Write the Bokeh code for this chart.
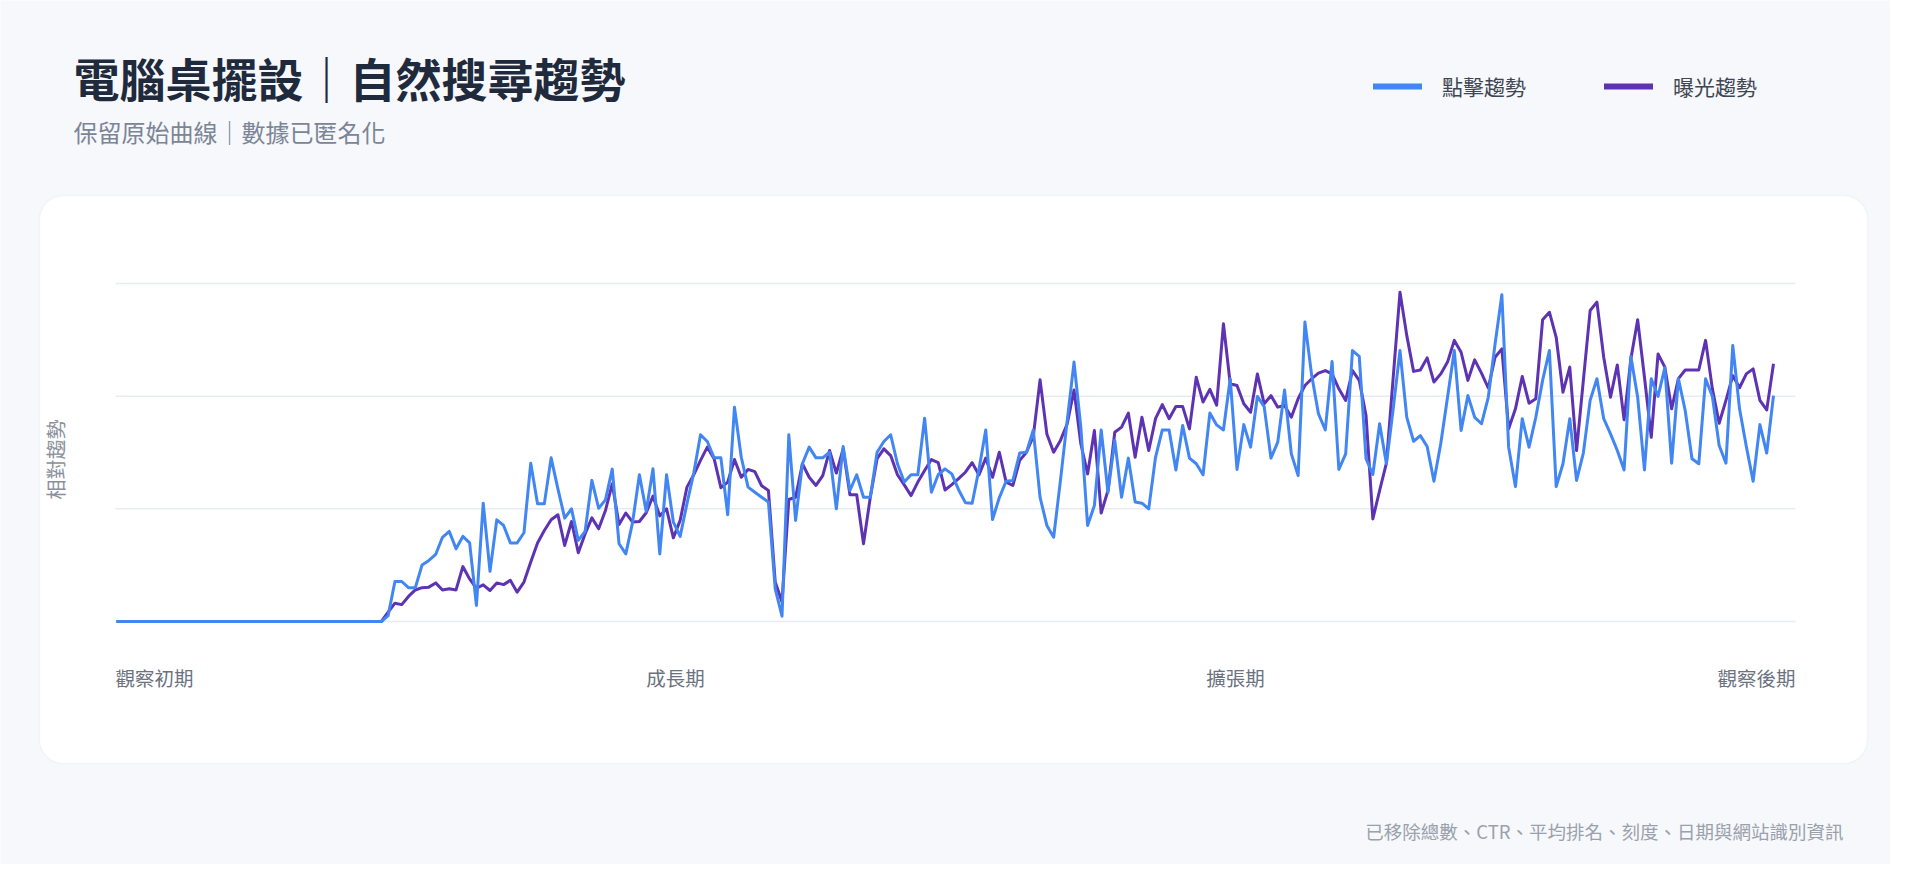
from math import pi
from bokeh.plotting import figure
from bokeh.models import (Range1d, BoxAnnotation, Label, Legend, LegendItem,
                          ColumnDataSource)
from bokeh.embed import file_html
from bokeh.resources import INLINE

# ---------------- data (relative trend, anonymised) ----------------
clicks = [
    0, 0, 0, 0, 0, 0, 0, 0, 0, 0,
    0, 0, 0, 0, 0, 0, 0, 0, 0, 0,
    0, 0, 0, 0, 0, 0, 0, 0, 0, 0,
    0, 0, 0, 0, 0, 0, 0, 0, 0, 0,
    2.1, 14.2, 14.2, 12.0, 12.0, 20.1, 21.7, 23.8, 29.9, 32.0,
    25.8, 30.2, 27.9, 5.7, 42.0, 17.8, 36.1, 34.1, 27.9, 27.9,
    31.5, 56.2, 41.8, 41.8, 58.1, 47.1, 36.7, 40.0, 28.8, 32.0,
    50.1, 40.2, 43.2, 54.1, 27.6, 24.0, 35.3, 52.1, 39.1, 54.2,
    24.0, 52.1, 35.3, 30.2, 41.8, 52.7, 66.3, 63.9, 58.1, 58.1,
    37.9, 76.1, 58.3, 47.7, 45.9, 44.1, 42.4, 11.6, 1.9, 66.3,
    35.9, 56.0, 61.9, 58.1, 58.1, 60.1, 40.0, 62.1, 46.5, 52.1,
    44.1, 44.1, 60.1, 63.9, 66.3, 56.0, 49.5, 52.1, 52.1, 72.2,
    45.9, 52.1, 54.2, 52.4, 46.8, 42.2, 42.0, 54.0, 68.0, 36.2,
    44.0, 49.8, 50.1, 59.8, 60.1, 68.0, 44.1, 34.1, 29.9, 50.1,
    71.4, 92.1, 69.0, 34.1, 41.2, 68.0, 45.9, 64.3, 44.1, 58.0,
    42.4, 42.0, 40.0, 58.3, 68.0, 68.0, 53.8, 69.6, 58.0, 56.0,
    52.1, 74.0, 69.8, 68.0, 86.2, 54.0, 69.9, 61.9, 79.9, 76.3,
    58.0, 63.7, 82.2, 59.5, 51.8, 106.3, 87.3, 73.7, 68.0, 92.3,
    54.0, 59.5, 96.2, 94.1, 57.8, 52.2, 70.2, 56.0, 75.5, 96.2,
    72.5, 64.0, 66.0, 62.1, 49.8, 63.1, 79.6, 96.2, 67.8, 80.2,
    72.5, 70.2, 79.6, 98.5, 116.0, 61.9, 47.9, 72.0, 61.9, 72.5,
    85.6, 96.2, 47.9, 56.0, 72.0, 50.1, 59.8, 78.5, 86.2, 72.0,
    66.6, 60.7, 53.8, 94.1, 79.6, 53.8, 86.2, 79.9, 90.1, 56.2,
    86.2, 74.9, 57.8, 56.0, 86.2, 79.9, 62.5, 56.2, 98.0, 75.5,
    62.1, 49.8, 69.9, 59.8, 80.2,
]

impressions = [
    0, 0, 0, 0, 0, 0, 0, 0, 0, 0,
    0, 0, 0, 0, 0, 0, 0, 0, 0, 0,
    0, 0, 0, 0, 0, 0, 0, 0, 0, 0,
    0, 0, 0, 0, 0, 0, 0, 0, 0, 0,
    3.3, 6.5, 6.0, 8.9, 11.2, 12.0, 12.2, 13.7, 11.2, 11.6,
    11.2, 19.5, 15.1, 11.8, 13.0, 11.0, 13.7, 13.1, 14.6, 10.4,
    14.0, 21.1, 27.9, 32.3, 36.1, 37.9, 27.0, 35.5, 24.4, 31.1,
    36.8, 32.9, 39.4, 48.9, 34.4, 38.5, 35.3, 35.5, 38.6, 44.5,
    37.5, 40.0, 29.7, 35.9, 47.7, 52.1, 57.2, 61.9, 57.8, 47.5,
    49.5, 57.5, 51.2, 54.0, 53.2, 48.2, 46.5, 14.0, 6.9, 43.3,
    44.1, 56.0, 51.2, 48.3, 51.8, 60.7, 52.7, 61.3, 45.0, 45.0,
    27.6, 44.1, 57.8, 61.3, 58.9, 52.1, 48.5, 44.7, 49.5, 53.6,
    57.5, 56.4, 46.7, 48.6, 50.7, 53.0, 56.4, 52.0, 58.0, 51.2,
    60.1, 49.5, 48.3, 57.2, 60.1, 65.7, 85.8, 66.6, 60.1, 64.3,
    70.2, 82.2, 63.1, 52.4, 67.8, 38.5, 46.5, 67.2, 69.0, 74.0,
    58.3, 72.5, 60.7, 72.0, 77.0, 72.0, 76.3, 76.3, 68.4, 86.7,
    77.9, 82.4, 76.8, 105.7, 84.4, 83.8, 77.3, 74.3, 87.9, 77.3,
    80.2, 76.1, 76.7, 72.5, 79.1, 83.8, 86.2, 88.2, 89.1, 87.9,
    82.6, 78.5, 89.1, 85.6, 73.1, 36.4, 46.5, 56.2, 86.7, 116.9,
    101.5, 88.8, 89.3, 93.6, 85.0, 87.9, 92.1, 99.8, 95.6, 85.6,
    92.9, 88.2, 82.9, 93.8, 96.8, 68.4, 75.5, 87.0, 77.5, 79.1,
    107.1, 109.8, 100.9, 81.4, 90.3, 60.7, 85.6, 110.4, 113.4, 93.8,
    79.6, 91.1, 71.6, 93.3, 107.1, 86.7, 65.4, 95.0, 90.3, 75.5,
    86.2, 89.3, 89.3, 89.3, 99.8, 82.6, 70.4, 78.5, 87.3, 83.0,
    87.9, 89.7, 78.5, 75.1, 91.5,
]

series_names = ["點擊趨勢", "曝光趨勢"]
x_labels = ["觀察初期", "成長期", "擴張期", "觀察後期"]
y_ticks = [0, 40, 80, 120]
title_text = "電腦桌擺設｜自然搜尋趨勢"
subtitle_text = "保留原始曲線｜數據已匿名化"
y_title = "相對趨勢"
footer_text = "已移除總數、CTR、平均排名、刻度、日期與網站識別資訊"

# ---------------- style / layout (canvas pixels) ----------------
BG = "#f6f8fb"
BLUE = "#4286f3"
PURPLE = "#5d33b3"
FONT = "Noto Sans CJK TC"

W, H = 1890, 864
PLOT_L, PLOT_R = 115, 1795          # chart area (gridline extent)
DATA_L, DATA_R = 116, 1773          # first / last sample position
Y0_PX, YTOP_PX = 621, 283           # y of value 0 and of top tick

N = len(clicks)
xs = list(range(N))
sx = (DATA_R - DATA_L) / (N - 1)                     # px per sample
sy = (Y0_PX - YTOP_PX) / (y_ticks[-1] - y_ticks[0])  # px per unit
x_start = -DATA_L / sx
y_start = y_ticks[0] - (H - Y0_PX) / sy

def px2x(px):
    return x_start + px / sx

src = ColumnDataSource(dict(x=xs, clicks=clicks, impressions=impressions))

p = figure(width=W, height=H, output_backend="svg", toolbar_location=None,
           x_axis_type=None, y_axis_type=None,
           x_range=Range1d(x_start, x_start + W / sx),
           y_range=Range1d(y_start, y_start + H / sy),
           min_border=0, border_fill_color=BG, background_fill_color=BG,
           outline_line_color=None)

# card
card = BoxAnnotation(left=39, right=1867, top=195, bottom=763,
                     left_units="canvas", right_units="canvas",
                     top_units="canvas", bottom_units="canvas",
                     fill_color="white", fill_alpha=1.0,
                     line_color="#e0e4ec", line_width=1.5,
                     border_radius=24, level="image")
p.add_layout(card)

# horizontal gridlines at the y ticks
p.segment(x0=[px2x(PLOT_L)] * len(y_ticks), x1=[px2x(PLOT_R)] * len(y_ticks),
          y0=y_ticks, y1=y_ticks, line_color="#e8ebf0", line_width=1.5)

p.line("x", "impressions", source=src, line_color=PURPLE, line_width=3,
       line_join="round")
p.line("x", "clicks", source=src, line_color=BLUE, line_width=3,
       line_join="round")

# legend swatches: renderers whose points are NaN (nothing drawn in the chart)
nan = float("nan")
lb = p.line(x=[0, 1], y=[nan, nan], line_color=BLUE, line_width=6,
            line_cap="round")
lp = p.line(x=[0, 1], y=[nan, nan], line_color=PURPLE, line_width=6,
            line_cap="round")
legend = Legend(items=[LegendItem(label=series_names[0], renderers=[lb]),
                       LegendItem(label=series_names[1], renderers=[lp])],
                orientation="horizontal", location=(1373, H - 101),
                glyph_width=49, glyph_height=24, label_height=24,
                label_standoff=20, spacing=78, padding=0, margin=0,
                border_line_alpha=0, background_fill_alpha=0,
                label_text_font=FONT, label_text_font_size="21px",
                label_text_color="#3f4653", label_text_baseline="middle")
p.add_layout(legend)

def lab(text, x, y, size, color, align="left", style="normal", angle=0.0):
    p.add_layout(Label(x=x, y=y, x_units="canvas", y_units="canvas", text=text,
                       text_font=FONT, text_font_size=size, text_color=color,
                       text_font_style=style, text_align=align,
                       text_baseline="middle", angle=angle))

lab(title_text, 73, 76, "46px", "#1f2a3c", style="bold")
lab(subtitle_text, 73, 131, "24px", "#7c8596")
lab(y_title, 55, 459, "20px", "#8b919c", align="center", angle=pi / 2)

pw = PLOT_R - PLOT_L
label_pos = [PLOT_L, PLOT_L + pw / 3, PLOT_L + 2 * pw / 3, PLOT_R]
aligns = ["left", "center", "center", "right"]
for t, xp, al in zip(x_labels, label_pos, aligns):
    lab(t, xp, 677, "19.5px", "#6b7280", align=al)

lab(footer_text, 1843, 830, "18.5px", "#9aa1ad", align="right")

open("out.html", "w").write(file_html(p, INLINE))
